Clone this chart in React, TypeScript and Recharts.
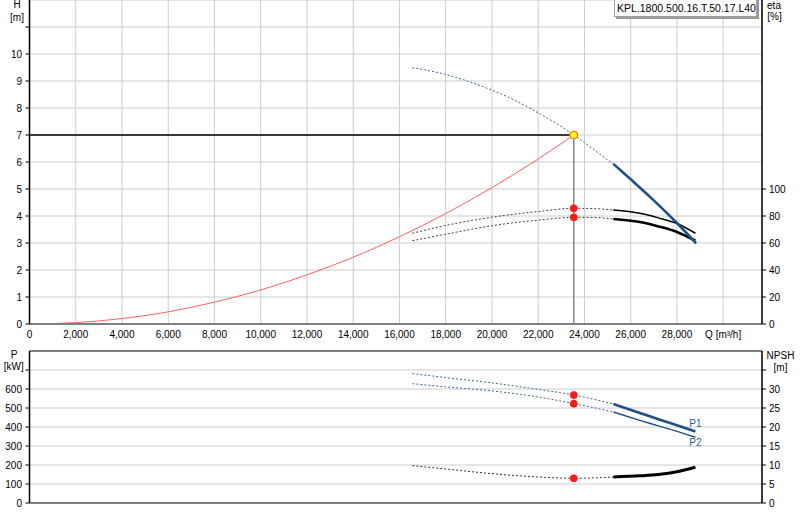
import React from 'react';
import {
  ComposedChart,
  Line,
  XAxis,
  YAxis,
  CartesianGrid,
  ReferenceLine,
  ReferenceDot,
} from 'recharts';

// ---------- ticks ----------
const Q_TICKS = [0, 2000, 4000, 6000, 8000, 10000, 12000, 14000, 16000, 18000, 20000, 22000, 24000, 26000, 28000, 30000];
const H_TICKS = [0, 1, 2, 3, 4, 5, 6, 7, 8, 9, 10, 11];
const ETA_TICKS = [0, 20, 40, 60, 80, 100];
const P_TICKS = [0, 100, 200, 300, 400, 500, 600, 700];
const NPSH_TICKS = [0, 5, 10, 15, 20, 25, 30, 35];

// ---------- duty point ----------
const DUTY_Q = 23540;
const DUTY_H = 7.0;
const DUTY_ETA = [85.7, 79.0];
const DUTY_P = [568, 523];
const DUTY_NPSH = 6.5;

// ---------- head curve ----------
const H_DOT_Q = [16560, 17000, 18000, 19000, 20000, 21000, 22000, 23000, 23540, 24000, 25000, 25250];
const H_DOT_V = [9.49, 9.43, 9.24, 8.98, 8.66, 8.28, 7.82, 7.31, 7.0, 6.72, 6.08, 5.93];
const H_SOLID_Q = [25250, 26000, 27000, 28000, 28830];
const H_SOLID_V = [5.93, 5.36, 4.58, 3.74, 2.99];

// ---------- system curve ----------
const SYS_Q = [0, 2000, 4000, 6000, 8000, 10000, 12000, 14000, 16000, 18000, 20000, 22000, 23540];
const SYS_H = [0, 0.05, 0.2, 0.45, 0.81, 1.26, 1.82, 2.47, 3.23, 4.09, 5.05, 6.11, 7.0];

// ---------- efficiency curves ----------
const SEG_DOT_Q = [16560, 18000, 20000, 22000, 23540, 24400, 25250];
const SEG_SOLID_Q = [25250, 26400, 27200, 28000, 28800];
const ETA1_DOT = [67.2, 73.0, 79.1, 83.3, 85.7, 85.5, 84.4];
const ETA1_SOLID = [84.4, 82.0, 78.6, 74.4, 67.2];
const ETA2_DOT = [61.7, 66.5, 72.8, 76.9, 79.0, 78.9, 77.8];
const ETA2_SOLID = [77.8, 75.5, 72.3, 68.2, 61.7];

// ---------- power / NPSH ----------
const P1_DOT = [681, 660, 632, 598, 568, 546, 521];
const P1_SOLID = [521, 474, 441, 409, 376];
const P2_DOT = [628, 611, 590, 558, 523, 502, 479];
const P2_SOLID = [479, 435, 406, 377, 346];
const NPSH_DOT = [9.84, 8.95, 7.73, 6.84, 6.5, 6.6, 6.84];
const NPSH_SOLID = [6.84, 7.15, 7.5, 8.2, 9.39];

const LEGEND_TEXT = 'KPL.1800.500.16.T.50.17.L40';

const zip = (qs: number[], vs: number[]) => qs.map((q, i) => ({ q, v: vs[i] }));
const pts = (q: number, vs: number[]) => vs.map((v) => ({ q, v }));

const FONT = '"Liberation Sans", Arial, sans-serif';
const tickStyle = { fill: '#000', fontSize: 10, fontFamily: FONT };
const BLUE = '#1f4f85';
const BLUE_DOT = '#3d6693';
const GRID = '#cccccc';
const RED = '#ff1a1a';

const redDot = { r: 3.5, fill: RED, stroke: RED, strokeWidth: 1 };

const qFormat = (v: number) => (v === 30000 ? 'Q [m³/h]' : v.toLocaleString('en-US'));

const labelDiv = (text: string, cx: number, cy: number) => (
  <div
    key={text + cx + cy}
    style={{
      position: 'absolute',
      left: cx - 30,
      top: cy - 6,
      width: 60,
      height: 12,
      lineHeight: '12px',
      textAlign: 'center',
      fontSize: 10,
      fontFamily: FONT,
      color: '#000',
      whiteSpace: 'nowrap',
    }}
  >
    {text}
  </div>
);

export default function App() {
  return (
    <div style={{ position: 'absolute', left: 0, top: 0, width: 800, height: 520, background: '#fff', overflow: 'hidden' }}>
      <div style={{ position: 'absolute', left: 0, top: 0 }}>
        <ComposedChart width={800} height={345} margin={{ top: 0, right: 0, bottom: 0, left: 0 }}>
          <CartesianGrid yAxisId="h" stroke={GRID} strokeWidth={1} />
          <XAxis
            type="number"
            dataKey="q"
            domain={[0, 31680]}
            ticks={Q_TICKS}
            tickFormatter={qFormat}
            height={21}
            tickLine={false}
            tickSize={5}
            tickMargin={2}
            axisLine={{ stroke: '#808080', strokeWidth: 2 }}
            tick={tickStyle}
            interval={0}
            allowDataOverflow
          />
          <YAxis
            yAxisId="h"
            type="number"
            dataKey="v"
            domain={[0, 12]}
            ticks={H_TICKS}
            tickFormatter={(v: number) => (v > 10 ? '' : String(v))}
            width={29.5}
            tickSize={4}
            tickMargin={3.5}
            axisLine={{ stroke: '#000', strokeWidth: 1.5 }}
            tickLine={{ stroke: '#000' }}
            tick={tickStyle}
            interval={0}
            allowDataOverflow
          />
          <YAxis
            yAxisId="eta"
            orientation="right"
            type="number"
            dataKey="v"
            domain={[0, 240]}
            ticks={ETA_TICKS}
            width={38}
            tickSize={4}
            tickMargin={3}
            axisLine={{ stroke: '#000', strokeWidth: 1.5 }}
            tickLine={{ stroke: '#000' }}
            tick={tickStyle}
            interval={0}
            allowDataOverflow
          />
          {/* system curve */}
          <Line yAxisId="h" data={zip(SYS_Q, SYS_H)} dataKey="v" type="monotone" stroke="#ff6060" strokeWidth={1} dot={false} isAnimationActive={false} />
          {/* duty lines */}
          <Line yAxisId="h" data={[{ q: 0, v: DUTY_H }, { q: DUTY_Q, v: DUTY_H }]} dataKey="v" type="linear" stroke="#000" strokeWidth={1.3} dot={false} isAnimationActive={false} />
          <Line yAxisId="h" data={[{ q: DUTY_Q, v: DUTY_H }, { q: DUTY_Q, v: 0 }]} dataKey="v" type="linear" stroke="#777" strokeWidth={1.3} dot={false} isAnimationActive={false} />
          {/* efficiency */}
          <Line yAxisId="eta" data={zip(SEG_DOT_Q, ETA1_DOT)} dataKey="v" type="monotone" stroke="#444" strokeWidth={1} strokeDasharray="2 2" dot={false} isAnimationActive={false} />
          <Line yAxisId="eta" data={zip(SEG_DOT_Q, ETA2_DOT)} dataKey="v" type="monotone" stroke="#444" strokeWidth={1} strokeDasharray="2 2" dot={false} isAnimationActive={false} />
          <Line yAxisId="eta" data={zip(SEG_SOLID_Q, ETA1_SOLID)} dataKey="v" type="monotone" stroke="#000" strokeWidth={1.5} dot={false} isAnimationActive={false} />
          <Line yAxisId="eta" data={zip(SEG_SOLID_Q, ETA2_SOLID)} dataKey="v" type="monotone" stroke="#000" strokeWidth={2.6} dot={false} isAnimationActive={false} />
          {/* head */}
          <Line yAxisId="h" data={zip(H_DOT_Q, H_DOT_V)} dataKey="v" type="monotone" stroke={BLUE_DOT} strokeWidth={1} strokeDasharray="2 2" dot={false} isAnimationActive={false} />
          <Line yAxisId="h" data={zip(H_SOLID_Q, H_SOLID_V)} dataKey="v" type="monotone" stroke={BLUE} strokeWidth={2.6} dot={false} isAnimationActive={false} />
          {/* duty markers */}
          <Line yAxisId="eta" data={pts(DUTY_Q, DUTY_ETA)} dataKey="v" stroke="none" dot={redDot} isAnimationActive={false} />
          <Line yAxisId="h" data={[{ q: DUTY_Q, v: DUTY_H }]} dataKey="v" stroke="none" dot={{ r: 4, fill: '#ffff00', stroke: '#ff5a1a', strokeWidth: 1 }} isAnimationActive={false} />
        </ComposedChart>
      </div>

      <div style={{ position: 'absolute', left: 0, top: 345 }}>
        <ComposedChart width={800} height={175} margin={{ top: 6, right: 0, bottom: 0, left: 0 }}>
          <CartesianGrid yAxisId="p" stroke={GRID} strokeWidth={1} />
          <XAxis
            type="number"
            dataKey="q"
            domain={[0, 31680]}
            ticks={Q_TICKS}
            height={17}
            tick={false}
            tickLine={false}
            axisLine={{ stroke: '#808080', strokeWidth: 2 }}
            interval={0}
            allowDataOverflow
          />
          <YAxis
            yAxisId="p"
            type="number"
            dataKey="v"
            domain={[0, 800]}
            ticks={P_TICKS}
            tickFormatter={(v: number) => (v > 600 ? '' : String(v))}
            width={29.5}
            tickSize={4}
            tickMargin={3.5}
            axisLine={{ stroke: '#000', strokeWidth: 1.5 }}
            tickLine={{ stroke: '#000' }}
            tick={tickStyle}
            interval={0}
            allowDataOverflow
          />
          <YAxis
            yAxisId="n"
            orientation="right"
            type="number"
            dataKey="v"
            domain={[0, 40]}
            ticks={NPSH_TICKS}
            tickFormatter={(v: number) => (v > 30 ? '' : String(v))}
            width={38}
            tickSize={4}
            tickMargin={3}
            axisLine={{ stroke: '#000', strokeWidth: 1.5 }}
            tickLine={{ stroke: '#000' }}
            tick={tickStyle}
            interval={0}
            allowDataOverflow
          />
          <ReferenceLine yAxisId="p" y={800} stroke="#808080" strokeWidth={2} />
          {/* power */}
          <Line yAxisId="p" data={zip(SEG_DOT_Q, P1_DOT)} dataKey="v" type="monotone" stroke={BLUE_DOT} strokeWidth={1} strokeDasharray="2 2" dot={false} isAnimationActive={false} />
          <Line yAxisId="p" data={zip(SEG_DOT_Q, P2_DOT)} dataKey="v" type="monotone" stroke={BLUE_DOT} strokeWidth={1} strokeDasharray="2 2" dot={false} isAnimationActive={false} />
          <Line yAxisId="p" data={zip(SEG_SOLID_Q, P1_SOLID)} dataKey="v" type="monotone" stroke={BLUE} strokeWidth={2.6} dot={false} isAnimationActive={false} />
          <Line yAxisId="p" data={zip(SEG_SOLID_Q, P2_SOLID)} dataKey="v" type="monotone" stroke={BLUE} strokeWidth={1.4} dot={false} isAnimationActive={false} />
          {/* NPSH */}
          <Line yAxisId="n" data={zip(SEG_DOT_Q, NPSH_DOT)} dataKey="v" type="monotone" stroke="#333" strokeWidth={1} strokeDasharray="2 2" dot={false} isAnimationActive={false} />
          <Line yAxisId="n" data={zip(SEG_SOLID_Q, NPSH_SOLID)} dataKey="v" type="monotone" stroke="#000" strokeWidth={3} dot={false} isAnimationActive={false} />
          {/* duty markers */}
          <Line yAxisId="p" data={pts(DUTY_Q, DUTY_P)} dataKey="v" stroke="none" dot={redDot} isAnimationActive={false} />
          <Line yAxisId="n" data={[{ q: DUTY_Q, v: DUTY_NPSH }]} dataKey="v" stroke="none" dot={redDot} isAnimationActive={false} />
          <ReferenceDot
            yAxisId="p"
            x={SEG_SOLID_Q[SEG_SOLID_Q.length - 1]}
            y={P1_SOLID[P1_SOLID.length - 1]}
            r={0}
            stroke="none"
            ifOverflow="visible"
            label={{ value: 'P1', position: 'top', offset: 5, fill: '#2a62a8', fontSize: 10, fontFamily: FONT }}
          />
          <ReferenceDot
            yAxisId="p"
            x={SEG_SOLID_Q[SEG_SOLID_Q.length - 1]}
            y={P2_SOLID[P2_SOLID.length - 1]}
            r={0}
            stroke="none"
            ifOverflow="visible"
            label={{ value: 'P2', position: 'bottom', offset: 2, fill: '#2a62a8', fontSize: 10, fontFamily: FONT }}
          />
        </ComposedChart>
      </div>

      {/* axis titles */}
      {labelDiv('H', 17, 4.5)}
      {labelDiv('[m]', 17, 17.5)}
      {labelDiv('eta', 774, 5.5)}
      {labelDiv('[%]', 774.5, 16.7)}
      {labelDiv('P', 14, 355)}
      {labelDiv('[kW]', 13.7, 367.2)}
      {labelDiv('NPSH', 780.5, 355.5)}
      {labelDiv('[m]', 780.5, 367.5)}

      {/* legend box */}
      <div
        style={{
          position: 'absolute',
          left: 614,
          top: -3,
          width: 143,
          height: 20,
          border: '1px solid #a0a0a0',
          boxShadow: '2px 2px 0 #9a9a9a',
          background: '#fff',
          fontSize: 10.5,
          fontFamily: FONT,
          lineHeight: '20px',
          paddingLeft: 2,
          boxSizing: 'border-box',
          whiteSpace: 'nowrap',
          overflow: 'hidden',
          color: '#000',
        }}
      >
        {LEGEND_TEXT}
      </div>
    </div>
  );
}
